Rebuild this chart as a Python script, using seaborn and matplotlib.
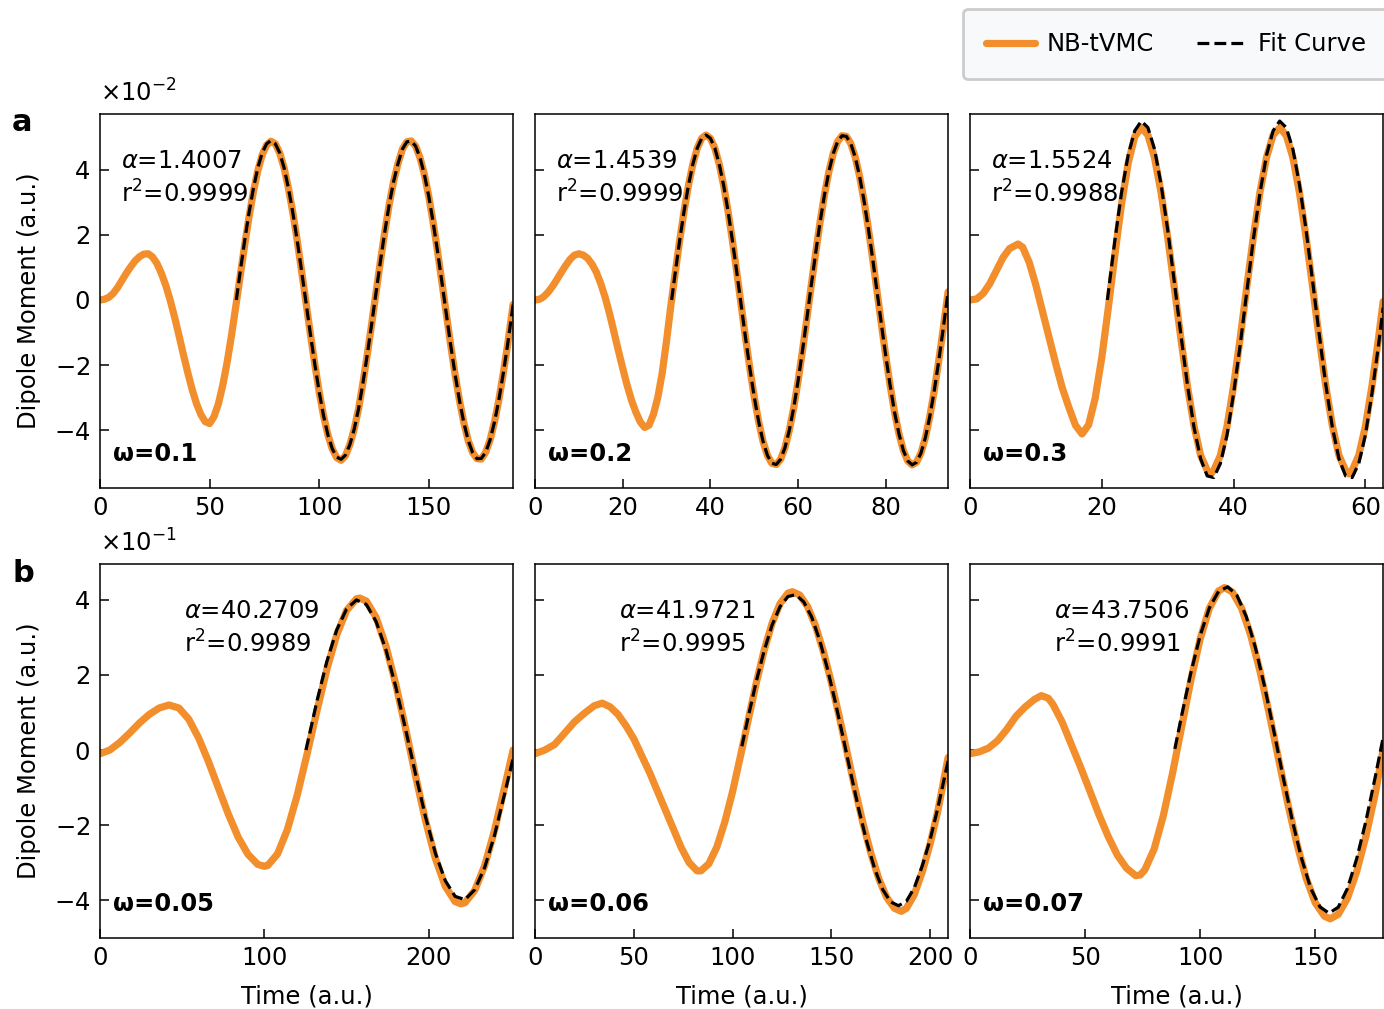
import matplotlib
matplotlib.use("Agg")
import matplotlib.pyplot as plt
from matplotlib.ticker import ScalarFormatter
import seaborn as sns

# ---------------- data ----------------
# Row a: dipole moment in units of 1e-2 a.u.;  row b: in units of 1e-1 a.u.

# omega = 0.1  (sampled every 2 a.u.)
t_a1 = list(range(0, 189, 2)) + [188.5]
d_a1 = [0.0, 0.02, 0.08, 0.2, 0.38, 0.6, 0.82, 1.02, 1.2, 1.33,
        1.41, 1.42, 1.32, 1.12, 0.82, 0.45, 0.0, -0.52, -1.08, -1.66,
        -2.22, -2.74, -3.18, -3.52, -3.74, -3.8, -3.59, -3.2, -2.63, -1.92,
        -1.09, -0.18, 0.75, 1.68, 2.55, 3.33, 3.97, 4.46, 4.76, 4.88,
        4.80, 4.52, 4.06, 3.43, 2.68, 1.82, 0.88, -0.08, -1.05, -1.97,
        -2.82, -3.56, -4.15, -4.58, -4.85, -4.93, -4.79, -4.45, -3.97, -3.34,
        -2.54, -1.66, -0.72, 0.25, 1.21, 2.12, 2.95, 3.65, 4.20, 4.64,
        4.86, 4.89, 4.73, 4.38, 3.86, 3.19, 2.39, 1.50, 0.55, -0.42,
        -1.38, -2.28, -3.08, -3.77, -4.32, -4.69, -4.88, -4.89, -4.68, -4.30,
        -3.75, -3.07, -2.26, -1.37, -0.39, -0.14]
fit_t_a1 = [62.2] + list(range(64, 189, 2)) + [188.5]
fit_d_a1 = [0.0, 0.88, 1.82, 2.68, 3.43, 4.06, 4.52, 4.80, 4.90,
            4.80, 4.52, 4.06, 3.43, 2.68, 1.82, 0.88, -0.08, -1.05, -1.97,
            -2.82, -3.56, -4.15, -4.58, -4.83, -4.90, -4.77, -4.45, -3.97, -3.34,
            -2.54, -1.66, -0.72, 0.25, 1.21, 2.12, 2.95, 3.65, 4.20, 4.64,
            4.86, 4.89, 4.73, 4.38, 3.86, 3.19, 2.39, 1.50, 0.55, -0.42,
            -1.38, -2.28, -3.08, -3.77, -4.32, -4.69, -4.88, -4.87, -4.68, -4.30,
            -3.75, -3.07, -2.26, -1.37, -0.39, -0.14]

# omega = 0.2  (sampled every 1 a.u.)
t_a2 = list(range(0, 95)) + [94.2]
d_a2 = [0.0, 0.02, 0.1, 0.24, 0.42, 0.63, 0.85, 1.06, 1.25, 1.38,
        1.42, 1.38, 1.28, 1.1, 0.85, 0.5, 0.08, -0.42, -0.98, -1.55,
        -2.1, -2.62, -3.08, -3.45, -3.75, -3.92, -3.85, -3.52, -3.0, -2.25,
        -1.25, -0.15, 0.86, 1.84, 2.74, 3.53, 4.18, 4.67, 4.97, 5.07,
        4.97, 4.67, 4.18, 3.53, 2.74, 1.84, 0.86, -0.15, -1.16, -2.11,
        -2.99, -3.74, -4.35, -4.78, -5.02, -5.06, -4.90, -4.54, -4.00, -3.31,
        -2.48, -1.55, -0.56, 0.46, 1.45, 2.39, 3.23, 3.94, 4.50, 4.87,
        5.05, 5.03, 4.81, 4.40, 3.81, 3.07, 2.21, 1.26, 0.25, -0.76,
        -1.74, -2.65, -3.46, -4.12, -4.63, -4.95, -5.07, -4.99, -4.71, -4.24,
        -3.60, -2.82, -1.93, -0.96, 0.05, 0.25]
fit_t_a2 = [31.15] + list(range(32, 95)) + [94.2]
fit_d_a2 = [0.0, 0.86, 1.84, 2.74, 3.53, 4.18, 4.67, 4.97, 5.07,
            4.97, 4.67, 4.18, 3.53, 2.74, 1.84, 0.86, -0.15, -1.16, -2.11,
            -2.99, -3.74, -4.35, -4.78, -5.02, -5.06, -4.90, -4.54, -4.00, -3.31,
            -2.48, -1.55, -0.56, 0.46, 1.45, 2.39, 3.23, 3.94, 4.50, 4.87,
            5.05, 5.03, 4.81, 4.40, 3.81, 3.07, 2.21, 1.26, 0.25, -0.76,
            -1.74, -2.65, -3.46, -4.12, -4.63, -4.95, -5.07, -4.99, -4.71, -4.24,
            -3.60, -2.82, -1.93, -0.96, 0.05, 0.25]

# omega = 0.3
t_a3 = [0, 1, 2, 3, 4, 5, 6, 7.3, 8, 9, 10, 11, 12, 13, 14, 15, 16, 17, 18, 19,
        20, 21, 22, 23, 24, 25, 26, 27, 28, 29, 30, 31, 32, 33, 34, 35, 36, 36.5, 37, 38,
        39, 40, 41, 42, 43, 44, 45, 46, 47, 48, 49, 50, 51, 52, 53, 54, 55, 56, 57, 57.5,
        58, 59, 60, 61, 62, 62.7]
d_a3 = [0.0, 0.03, 0.2, 0.5, 0.9, 1.3, 1.58, 1.72, 1.62, 1.15, 0.45, -0.35, -1.15, -1.95, -2.7, -3.3, -3.85, -4.12, -3.84, -3.02,
        -1.77, -0.23, 1.41, 2.95, 4.20, 5.02, 5.3, 5.07, 4.38, 3.30, 1.93, 0.40, -1.18, -2.65, -3.87, -4.78, -5.24, -5.35, -5.24, -4.78,
        -3.89, -2.65, -1.18, 0.39, 1.93, 3.31, 4.38, 5.07, 5.3, 5.06, 4.38, 3.30, 1.93, 0.40, -1.18, -2.65, -3.87, -4.78, -5.24, -5.35,
        -5.24, -4.78, -3.89, -2.65, -1.18, -0.05]
fit_t_a3 = [20.85, 22, 23, 24, 25, 26, 27, 28, 29, 30, 31, 32, 33, 34, 35, 36, 37, 38, 39, 40,
            41, 42, 43, 44, 45, 46, 47, 48, 49, 50, 51, 52, 53, 54, 55, 56, 57, 58, 59, 60,
            61, 62, 62.7]
fit_d_a3 = [0.0, 1.85, 3.30, 4.45, 5.20, 5.50, 5.30, 4.64, 3.55, 2.16, 0.57, -1.06, -2.61, -3.92, -4.88, -5.41, -5.46, -5.03, -4.16, -2.88,
            -1.39, 0.24, 1.86, 3.28, 4.45, 5.20, 5.50, 5.30, 4.64, 3.55, 2.16, 0.57, -1.06, -2.61, -3.92, -4.88, -5.41, -5.46, -5.03, -4.16,
            -2.88, -1.39, -0.24]

# omega = 0.05
t_b1 = [0, 6, 12, 18, 24, 30, 36, 42, 48, 54, 60, 66, 72, 78, 84, 90, 96, 100, 102, 108,
        114, 120, 126, 132, 138, 144, 150, 156, 158, 162, 168, 174, 180, 186, 192, 198, 204, 210, 216, 219.5,
        222, 228, 234, 240, 246, 251.3]
d_b1 = [-0.1, 0.0, 0.2, 0.45, 0.72, 0.95, 1.12, 1.2, 1.12, 0.82, 0.32, -0.31, -1.01, -1.70, -2.32, -2.78, -3.05, -3.1, -3.08, -2.77,
        -2.12, -1.20, -0.10, 1.05, 2.15, 3.07, 3.72, 4.03, 4.05, 3.97, 3.53, 2.76, 1.74, 0.55, -0.70, -1.88, -2.89, -3.63, -4.04, -4.1,
        -4.07, -3.74, -3.08, -2.14, -1.01, 0.0]
fit_t_b1 = [125.3, 132, 138, 144, 150, 156, 162, 168, 174, 180, 186, 192, 198, 204, 210, 216, 222, 228, 234, 240,
            246, 251.3]
fit_d_b1 = [0.0, 1.31, 2.36, 3.20, 3.76, 4.00, 3.88, 3.42, 2.66, 1.67, 0.53, -0.65, -1.78, -2.75, -3.48, -3.90, -3.99, -3.72, -3.13, -2.27,
            -1.19, -0.22]

# omega = 0.06
t_b2 = [0, 5, 10, 15, 20, 25, 30, 34, 38, 42, 46, 50, 54, 58, 62, 66, 70, 74, 78, 82,
        84, 88, 92, 96, 100, 104, 108, 112, 116, 120, 124, 128, 130.3, 134, 138, 142, 146, 150, 154, 158,
        162, 166, 170, 174, 178, 182, 185.4, 188, 192, 196, 200, 204, 209.1]
d_b2 = [-0.1, 0.0, 0.15, 0.45, 0.75, 0.98, 1.18, 1.25, 1.15, 0.95, 0.65, 0.3, -0.15, -0.6, -1.1, -1.6, -2.1, -2.6, -3.0, -3.22,
        -3.22, -3.03, -2.59, -1.93, -1.11, -0.16, 0.82, 1.79, 2.66, 3.38, 3.90, 4.18, 4.22, 4.13, 3.82, 3.31, 2.62, 1.80, 0.89, -0.07,
        -1.04, -1.95, -2.75, -3.43, -3.93, -4.22, -4.3, -4.22, -3.85, -3.25, -2.5, -1.6, -0.2]
fit_t_b2 = [104.7, 108, 112, 116, 120, 124, 128, 132, 136, 140, 144, 148, 152, 156, 160, 164, 168, 172, 176, 180,
            184, 188, 192, 196, 200, 204, 209.1]
fit_d_b2 = [0.10, 0.90, 1.83, 2.65, 3.33, 3.82, 4.09, 4.14, 3.95, 3.55, 2.94, 2.17, 1.28, 0.32, -0.66, -1.61, -2.46, -3.18, -3.72, -4.05,
            -4.15, -4.03, -3.67, -3.09, -2.39, -1.52, -0.29]

# omega = 0.07
t_b3 = [0, 4, 8, 12, 16, 20, 24, 28, 31, 34, 36, 40, 44, 48, 52, 56, 60, 64, 68, 72,
        74, 76, 80, 84, 88, 92, 96, 100, 104, 108, 110.6, 114, 118, 122, 126, 130, 134, 138, 142, 146,
        150, 154, 156.5, 160, 164, 168, 172, 176, 179.5]
d_b3 = [-0.1, -0.05, 0.05, 0.25, 0.55, 0.9, 1.15, 1.35, 1.45, 1.38, 1.22, 0.75, 0.15, -0.45, -1.08, -1.72, -2.3, -2.8, -3.15, -3.35,
        -3.33, -3.19, -2.64, -1.75, -0.62, 0.63, 1.87, 2.96, 3.78, 4.24, 4.33, 4.21, 3.78, 3.05, 2.10, 0.97, -0.22, -1.41, -2.49, -3.41,
        -4.07, -4.43, -4.5, -4.38, -3.95, -3.24, -2.30, -1.19, 0.0]
fit_t_b3 = [89, 92, 96, 100, 104, 108, 112, 116, 120, 124, 128, 132, 136, 140, 144, 148, 152, 156, 160, 164,
            168, 172, 176, 179.5]
fit_d_b3 = [0.03, 0.93, 2.07, 3.05, 3.79, 4.23, 4.35, 4.12, 3.56, 2.73, 1.69, 0.51, -0.71, -1.87, -2.88, -3.68, -4.18, -4.35, -4.19, -3.69,
            -2.90, -1.90, -0.74, 0.33]

omegas = ["0.1", "0.2", "0.3", "0.05", "0.06", "0.07"]
alphas = ["1.4007", "1.4539", "1.5524", "40.2709", "41.9721", "43.7506"]
r2s = ["0.9999", "0.9999", "0.9988", "0.9989", "0.9995", "0.9991"]
xticks = [[0, 50, 100, 150], [0, 20, 40, 60, 80], [0, 20, 40, 60],
          [0, 100, 200], [0, 50, 100, 150, 200], [0, 50, 100, 150]]
yticks = [-4, -2, 0, 2, 4]
row_scale = [1e-2, 1e-1]
row_ylim = [(-5.78, 5.72), (-5.01, 4.96)]
row_letters = ["a", "b"]

curves = [(t_a1, d_a1, fit_t_a1, fit_d_a1), (t_a2, d_a2, fit_t_a2, fit_d_a2),
          (t_a3, d_a3, fit_t_a3, fit_d_a3), (t_b1, d_b1, fit_t_b1, fit_d_b1),
          (t_b2, d_b2, fit_t_b2, fit_d_b2), (t_b3, d_b3, fit_t_b3, fit_d_b3)]

# ---------------- style ----------------
sns.set_theme(style="ticks", rc={
    "axes.edgecolor": "black", "axes.labelcolor": "black", "text.color": "black",
    "xtick.color": "black", "ytick.color": "black", "axes.linewidth": 1.1,
})
plt.rcParams["font.family"] = ["DejaVu Sans"]
plt.rcParams["mathtext.fontset"] = "dejavusans"

ORANGE = "#f28e2b"
FS = 17.5

fig = plt.figure(figsize=(13.84, 10.09), dpi=100)

lefts = [0.07225, 0.38656, 0.70087]
bottoms = [0.5164, 0.0704]
W, H = 0.2985, 0.3707

handles = None
for i, (t, d, ft, fd) in enumerate(curves):
    row, col = divmod(i, 3)
    ax = fig.add_axes([lefts[col], bottoms[row], W, H])
    s = row_scale[row]

    sns.lineplot(x=t, y=[v * s for v in d], ax=ax, color=ORANGE, linewidth=5.2,
                 estimator=None, legend=False, label="NB-tVMC", zorder=2,
                 solid_joinstyle="round", solid_capstyle="round")
    sns.lineplot(x=ft, y=[v * s for v in fd], ax=ax, color="black", linewidth=2.3,
                 linestyle="--", estimator=None, legend=False, label="Fit Curve", zorder=3,
                 dash_joinstyle="round")

    ax.set_xlim(t[0], t[-1])
    lo, hi = row_ylim[row]
    ax.set_ylim(lo * s, hi * s)
    ax.set_xticks(xticks[i])
    ax.set_yticks([v * s for v in yticks])

    ax.tick_params(direction="in", length=6.5, width=1.1, labelsize=FS,
                   top=False, right=False)
    ax.tick_params(axis="x", pad=6)
    ax.tick_params(axis="y", pad=7)
    for sp in ax.spines.values():
        sp.set_visible(True)
        sp.set_linewidth(1.1)
        sp.set_color("black")

    if col == 0:
        fmt = ScalarFormatter(useMathText=True)
        fmt.set_powerlimits((0, 0))
        ax.yaxis.set_major_formatter(fmt)
        ax.yaxis.get_offset_text().set_fontsize(FS)
        ax.yaxis.OFFSETTEXTPAD = 9
        ax.set_ylabel("Dipole Moment (a.u.)", fontsize=FS, labelpad=9)
    else:
        ax.set_yticklabels([])
        ax.set_ylabel("")

    if row == 1:
        ax.set_xlabel("Time (a.u.)", fontsize=FS, labelpad=10.5)
    else:
        ax.set_xlabel("")

    tx = 0.05 if row == 0 else 0.203
    ax.text(tx, 0.905, r"$\alpha$=" + alphas[i] + "\n" + r"r$^2$=" + r2s[i],
            transform=ax.transAxes, ha="left", va="top", fontsize=FS,
            linespacing=1.3)
    ax.text(0.031, 0.072, "ω=" + omegas[i], transform=ax.transAxes,
            ha="left", va="baseline", fontsize=FS, fontweight="bold")

    if handles is None:
        handles = ax.get_lines()[:2]

fig.text(0.0087, 0.870, row_letters[0], fontsize=22, fontweight="bold", va="baseline")
fig.text(0.0087, 0.4232, row_letters[1], fontsize=22, fontweight="bold", va="baseline")

leg = fig.legend(handles=handles, labels=["NB-tVMC", "Fit Curve"], loc="upper left",
                 bbox_to_anchor=(0.6958, 0.991), ncol=2, fontsize=FS, frameon=True,
                 fancybox=True, borderpad=0.95, handlelength=2.0, handletextpad=0.5,
                 columnspacing=1.75, borderaxespad=0)
frame = leg.get_frame()
frame.set_facecolor("#f8f9fa")
frame.set_edgecolor("#cccccc")
frame.set_linewidth(2.0)
frame.set_alpha(1.0)

fig.savefig("out.png", dpi=100)
